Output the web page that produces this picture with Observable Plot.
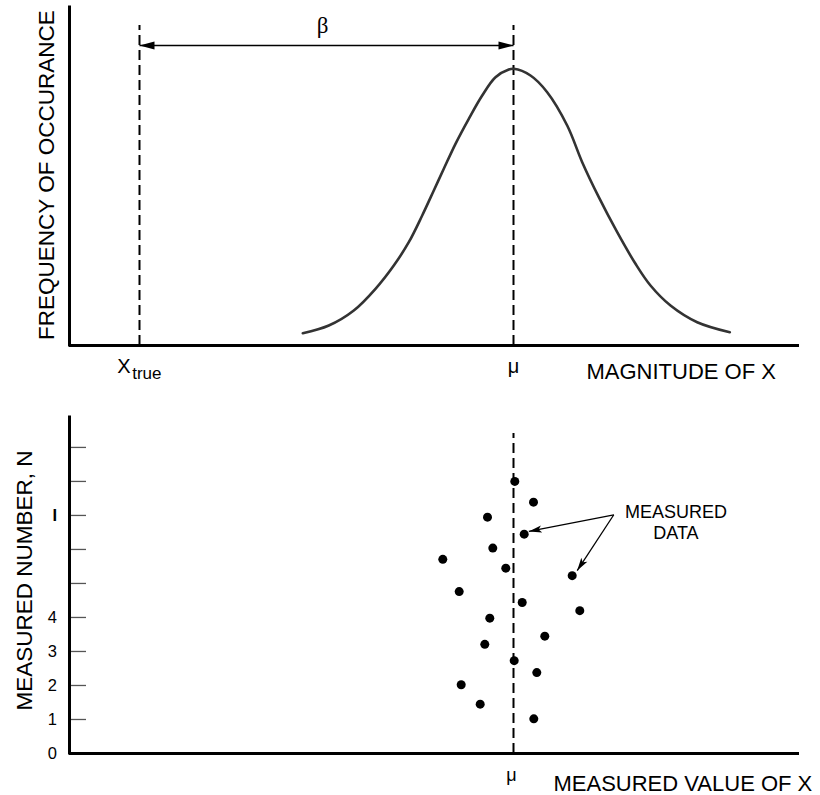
<!DOCTYPE html>
<html><head><meta charset="utf-8">
<script src="https://cdn.jsdelivr.net/npm/d3@7"></script>
<script src="https://cdn.jsdelivr.net/npm/@observablehq/plot@0.6"></script>
<style>body{margin:0;background:#fff} #chart svg{display:block}</style>
</head><body><div id="chart"></div>
<script>
// ---- Data ----
// Top panel: frequency distribution (x: magnitude units, y: relative frequency 0..100)
const curveX = [23.33,25.93,28.43,30.6,32.43,33.93,35.27,36.43,37.43,38.6,39.93,41.27,42.6,43.93,44.43,46.1,47.77,49.77,51.27,52.93,54.77,56.6,58.1,60.1,62.77,66.03];
const curveY = [3.64,5.92,10.36,16.78,23.67,30.56,38.46,45.86,52.28,59.67,67.07,73.96,79.38,81.66,81.86,79.88,74.94,65.09,54.23,43.88,33.52,24.17,17.75,11.83,6.89,3.93];
const xTrue = 7.0;
const mu = 44.4;
// Bottom panel: measured data points
const pointX = [44.53,46.4,41.8,45.47,42.33,37.33,43.63,50.27,38.97,45.27,51.03,42.03,47.53,41.53,44.47,46.73,39.17,41.07,46.43];
const pointN = [8.0,7.39,6.95,6.45,6.04,5.71,5.45,5.23,4.76,4.44,4.20,3.98,3.45,3.21,2.73,2.38,2.02,1.45,1.02];
const tickMarks = [1,2,3,4,5,6,7,8,9];
const tickValues = [0,1,2,3,4];
const tickLabels = ["0","1","2","3","4"];
const oddTickValue = 7;
const oddTickLabel = "I";

// ---- Scale settings ----
const xDomain = [0, 73], xRange = [69, 799];
const yTopDomain = [0, 100], yTopRange = [345, 7];
const yBotDomain = [0, 9.88], yBotRange = [361, 25];
const sx = d3.scaleLinear(xDomain, xRange);
const syT = d3.scaleLinear(yTopDomain, yTopRange);
const syB = d3.scaleLinear(yBotDomain, yBotRange);
const angle = (sX, sY, x0, y0, x1, y1) => {
  const dx = sX(x1) - sX(x0), dy = sY(y1) - sY(y0);
  return Math.atan2(dx, -dy) * 180 / Math.PI;
};

const font = "'Liberation Sans', Arial, Helvetica, sans-serif";
const headSolid = {draw(ctx) { ctx.moveTo(0, 0); ctx.lineTo(4, 15); ctx.lineTo(-4, 15); ctx.closePath(); }};
const headNotch = {draw(ctx) { ctx.moveTo(0, 0); ctx.lineTo(3.6, 13); ctx.lineTo(0, 10); ctx.lineTo(-3.6, 13); ctx.closePath(); }};

// ---- Top panel ----
const curve = curveX.map((x, i) => ({x, y: curveY[i]}));
const dashTopT = 94.67, betaY = 88.76;
const betaHeads = [
  {x: mu, y: betaY, r: angle(sx, syT, xTrue, betaY, mu, betaY)},
  {x: xTrue, y: betaY, r: angle(sx, syT, mu, betaY, xTrue, betaY)}
];
const topChart = Plot.plot({
  width: 820, height: 392, marginLeft: 69, marginRight: 21, marginTop: 7, marginBottom: 47,
  x: {domain: xDomain, range: xRange, axis: null},
  y: {domain: yTopDomain, range: yTopRange, axis: null},
  style: {fontFamily: font, color: "black", background: "white", overflow: "visible"},
  marks: [
    Plot.ruleX([xTrue, mu], {y1: 0, y2: dashTopT, stroke: "black", strokeWidth: 2, strokeDasharray: "10,5"}),
    Plot.line(curve, {x: "x", y: "y", curve: "catmull-rom", stroke: "#333", strokeWidth: 2.6}),
    Plot.link([{x1: xTrue, x2: mu, y: betaY}], {x1: "x1", x2: "x2", y1: "y", y2: "y", stroke: "black", strokeWidth: 1.6}),
    Plot.dot(betaHeads, {x: "x", y: "y", rotate: "r", symbol: headSolid, fill: "black", stroke: "none"}),
    Plot.text(["β"], {x: 25.3, y: betaY, dy: -12, lineAnchor: "bottom", textAnchor: "middle", fontSize: 23, fontFamily: "'Liberation Serif', 'Times New Roman', serif"}),
    Plot.ruleY([0], {stroke: "black", strokeWidth: 3}),
    Plot.ruleX([0], {y1: 0, y2: 100, stroke: "black", strokeWidth: 3, strokeLinecap: "square"}),
    Plot.text(["X"], {x: xTrue, y: 0, dx: -9, dy: 27, textAnchor: "end", lineAnchor: "bottom", fontSize: 20}),
    Plot.text(["true"], {x: xTrue, y: 0, dx: -7.3, dy: 33, textAnchor: "start", lineAnchor: "bottom", fontSize: 17}),
    Plot.text(["μ"], {x: mu, y: 0, dy: 27, textAnchor: "middle", lineAnchor: "bottom", fontSize: 20}),
    Plot.text(["MAGNITUDE OF X"], {x: 51.7, y: 0, dy: 33, textAnchor: "start", lineAnchor: "bottom", fontSize: 22}),
    Plot.text(["FREQUENCY OF OCCURANCE"], {x: -1.57, y: 50.4, rotate: -90, textAnchor: "middle", lineAnchor: "bottom", fontSize: 22.5})
  ]
});

// ---- Bottom panel ----
const points = pointX.map((x, i) => ({x, n: pointN[i]}));
const dashTopB = 9.41;
const arrowStart = {x: 54.43, y: 7.02};
const arrowTips = [{x: 45.93, y: 6.53}, {x: 50.77, y: 5.38}];
const dataArrows = arrowTips.map(t => ({x1: arrowStart.x, y1: arrowStart.y, x2: t.x, y2: t.y, r: angle(sx, syB, arrowStart.x, arrowStart.y, t.x, t.y)}));
const botChart = Plot.plot({
  width: 820, height: 403, marginLeft: 69, marginRight: 21, marginTop: 25, marginBottom: 42,
  x: {domain: xDomain, range: xRange, axis: null},
  y: {domain: yBotDomain, range: yBotRange, axis: null},
  style: {fontFamily: font, color: "black", background: "white", overflow: "visible"},
  marks: [
    Plot.ruleX([mu], {y1: 0, y2: dashTopB, stroke: "black", strokeWidth: 2, strokeDasharray: "10,5"}),
    Plot.ruleY(tickMarks, {x1: 0, x2: 1.7, stroke: "#555", strokeWidth: 1.3}),
    Plot.text(tickValues, {x: 0, y: d => d, text: (d, i) => tickLabels[i], dx: -12.5, textAnchor: "end", lineAnchor: "middle", fontSize: 16.5}),
    Plot.text([oddTickValue], {x: 0, y: d => d, text: () => oddTickLabel, dx: -12.5, textAnchor: "end", lineAnchor: "middle", fontSize: 16.5, fontWeight: "bold"}),
    Plot.dot(points, {x: "x", y: "n", r: 4.5, fill: "black", stroke: "none"}),
    Plot.link(dataArrows, {x1: "x1", y1: "y1", x2: "x2", y2: "y2", stroke: "black", strokeWidth: 1.3}),
    Plot.dot(dataArrows, {x: "x2", y: "y2", rotate: "r", symbol: headNotch, fill: "black", stroke: "none"}),
    Plot.text(["MEASURED\nDATA"], {x: 60.64, y: 6.315, textAnchor: "middle", lineAnchor: "bottom", lineHeight: 1.17, fontSize: 18}),
    Plot.ruleY([0], {stroke: "black", strokeWidth: 3}),
    Plot.ruleX([0], {y1: 0, y2: 9.88, stroke: "black", strokeWidth: 3, strokeLinecap: "square"}),
    Plot.text(["μ"], {x: mu, y: 0, dx: -2, dy: 27, textAnchor: "middle", lineAnchor: "bottom", fontSize: 18}),
    Plot.text(["MEASURED VALUE OF X"], {x: 48.4, y: 0, dy: 37, textAnchor: "start", lineAnchor: "bottom", fontSize: 22}),
    Plot.text(["MEASURED NUMBER, N"], {x: -3.73, y: 5.09, rotate: -90, textAnchor: "middle", lineAnchor: "bottom", fontSize: 22.5})
  ]
});

const root = document.getElementById("chart");
root.appendChild(topChart);
root.appendChild(botChart);
</script>
</body></html>
